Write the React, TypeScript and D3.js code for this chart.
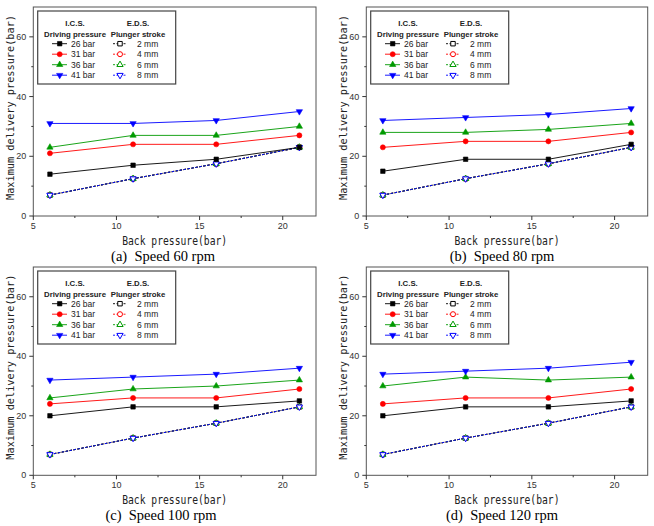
import * as d3 from 'd3'

// back pressure (bar) on the x axis
const backPressure = [6, 11, 16, 21]

const drivingLabels = ['26 bar', '31 bar', '36 bar', '41 bar']
const strokeLabels = ['2 mm', '4 mm', '6 mm', '8 mm']
const seriesColors = ['#000000', '#ff0000', '#009a00', '#0000ff']

// I.C.S. max delivery pressure per driving pressure, one table per pump speed
const ics60 = [
  [14, 17, 19, 23],
  [21, 24, 24, 27],
  [23, 27, 27, 30],
  [31, 31, 32, 35],
]
const ics80 = [
  [15, 19, 19, 24],
  [23, 25, 25, 28],
  [28, 28, 29, 31],
  [32, 33, 34, 36],
]
const ics100 = [
  [20, 23, 23, 25],
  [24, 26, 26, 29],
  [26, 29, 30, 32],
  [32, 33, 34, 36],
]
const ics120 = [
  [20, 23, 23, 25],
  [24, 26, 26, 29],
  [30, 33, 32, 33],
  [34, 35, 36, 38],
]

// E.D.S. per plunger stroke (the curves lie on top of each other)
const eds2mm = [7, 12.5, 17.5, 23]
const eds4mm = [7, 12.5, 17.5, 23]
const eds6mm = [7, 12.5, 17.5, 23]
const eds8mm = [7, 12.5, 17.5, 23]
const edsAll = [eds2mm, eds4mm, eds6mm, eds8mm]

const xTicks = [5, 10, 15, 20]
const xMinor = [7.5, 12.5, 17.5]
const yTicks = [0, 20, 40, 60]
const yMinor = [10, 30, 50]

const panels = [
  { caption: '(a)  Speed 60 rpm', ics: ics60, left: 33.3, top: 7, right: 316, bottom: 216, capX: 163, capY: 261 },
  { caption: '(b)  Speed 80 rpm', ics: ics80, left: 366.3, top: 7, right: 647.7, bottom: 216, capX: 502, capY: 261 },
  { caption: '(c)  Speed 100 rpm', ics: ics100, left: 33.3, top: 267, right: 316, bottom: 475.3, capX: 161, capY: 520 },
  { caption: '(d)  Speed 120 rpm', ics: ics120, left: 366.3, top: 267, right: 647.7, bottom: 475.3, capX: 502, capY: 520 },
]

const symbolTypes = [d3.symbolSquare, d3.symbolCircle, d3.symbolTriangle, d3.symbolTriangle]
const symbolSizes = [20, 20, 17, 17]

function Marker({ i, x, y, open }: { i: number; x: number; y: number; open: boolean }) {
  const d = d3.symbol().type(symbolTypes[i]).size(symbolSizes[i])()!
  const rot = i === 3 ? ' rotate(180)' : ''
  const c = seriesColors[i]
  return (
    <path
      d={d}
      transform={`translate(${x},${y})${rot}`}
      fill={open ? '#fff' : c}
      stroke={c}
      strokeWidth={open ? 1 : 0.6}
    />
  )
}

function Panel({ p }: { p: (typeof panels)[number] }) {
  const x = d3.scaleLinear().domain([5, 22]).range([p.left, p.right])
  const y = d3.scaleLinear().domain([0, 70]).range([p.bottom, p.top])
  const line = d3
    .line<number>()
    .x((_, i) => x(backPressure[i]))
    .y((v) => y(v))

  const lx = p.left + 4.4
  const ly = p.top + 4
  const rowY = (k: number) => ly + 32.7 + k * 10.5

  return (
    <g>
      <rect x={p.left} y={p.top} width={p.right - p.left} height={p.bottom - p.top} fill="none" stroke="#555" strokeWidth={1} />

      {yTicks.map((t) => (
        <g key={'y' + t}>
          <line x1={p.left - 4} x2={p.left} y1={y(t)} y2={y(t)} stroke="#333" />
          <text x={p.left - 7} y={y(t) + 3} textAnchor="end" fontSize={9} fill="#333" fontFamily="Liberation Sans, Arial, sans-serif">
            {t}
          </text>
        </g>
      ))}
      {yMinor.map((t) => (
        <line key={'ym' + t} x1={p.left - 2} x2={p.left} y1={y(t)} y2={y(t)} stroke="#333" />
      ))}
      {xTicks.map((t) => (
        <g key={'x' + t}>
          <line x1={x(t)} x2={x(t)} y1={p.bottom} y2={p.bottom + 4} stroke="#333" />
          <text x={x(t)} y={p.bottom + 13} textAnchor="middle" fontSize={9} fill="#333" fontFamily="Liberation Sans, Arial, sans-serif">
            {t}
          </text>
        </g>
      ))}
      {xMinor.map((t) => (
        <line key={'xm' + t} x1={x(t)} x2={x(t)} y1={p.bottom} y2={p.bottom + 2} stroke="#333" />
      ))}

      <text
        x={(p.left + p.right) / 2}
        y={p.bottom + 28.5}
        textAnchor="middle"
        fontSize={11.5}
        fill="#222"
        fontFamily="DejaVu Sans Mono, monospace"
        textLength={105}
        lengthAdjust="spacingAndGlyphs"
      >
        Back pressure(bar)
      </text>
      <text
        transform={`translate(${p.left - 19},${(p.top + p.bottom) / 2 - 4}) rotate(-90)`}
        textAnchor="middle"
        fontSize={11}
        fill="#222"
        fontFamily="DejaVu Sans Mono, monospace"
        textLength={185}
        lengthAdjust="spacingAndGlyphs"
      >
        Maximum delivery pressure(bar)
      </text>

      {edsAll.map((vals, i) => (
        <path key={'ed' + i} d={line(vals)!} fill="none" stroke={seriesColors[i]} strokeWidth={1} strokeDasharray="2.5,1.5" />
      ))}
      {p.ics.map((vals, i) => (
        <path key={'ic' + i} d={line(vals)!} fill="none" stroke={seriesColors[i]} strokeWidth={0.9} />
      ))}
      {edsAll.map((vals, i) =>
        vals.map((v, j) => <Marker key={`em${i}-${j}`} i={i} x={x(backPressure[j])} y={y(v)} open />),
      )}
      {p.ics.map((vals, i) =>
        vals.map((v, j) => <Marker key={`im${i}-${j}`} i={i} x={x(backPressure[j])} y={y(v)} open={false} />),
      )}

      {/* legend */}
      <rect x={lx} y={ly} width={138} height={73} fill="#fff" stroke="#444" strokeWidth={1.2} />
      <g fontFamily="Liberation Sans, Arial, sans-serif" fill="#222">
        <g fontSize={7.8} fontWeight="bold">
          <text x={lx + 37.3} y={ly + 15} textAnchor="middle">I.C.S.</text>
          <text x={lx + 100.3} y={ly + 15} textAnchor="middle">E.D.S.</text>
          <text x={lx + 37.3} y={ly + 25.5} textAnchor="middle">Driving pressure</text>
          <text x={lx + 100.3} y={ly + 25.5} textAnchor="middle">Plunger stroke</text>
        </g>
        <g fontSize={8.5}>
          {drivingLabels.map((lab, k) => (
            <g key={'ld' + k}>
              <line x1={lx + 14.3} x2={lx + 29.3} y1={rowY(k)} y2={rowY(k)} stroke={seriesColors[k]} strokeWidth={0.9} />
              <Marker i={k} x={lx + 22} y={rowY(k)} open={false} />
              <text x={lx + 33.3} y={rowY(k) + 3}>{lab}</text>
            </g>
          ))}
          {strokeLabels.map((lab, k) => (
            <g key={'ls' + k}>
              <line x1={lx + 75.3} x2={lx + 89.3} y1={rowY(k)} y2={rowY(k)} stroke={seriesColors[k]} strokeWidth={0.9} strokeDasharray="2,1.5" />
              <Marker i={k} x={lx + 82.3} y={rowY(k)} open />
              <text x={lx + 99.3} y={rowY(k) + 3}>{lab}</text>
            </g>
          ))}
        </g>
      </g>

      <text
        x={p.capX}
        y={p.capY}
        textAnchor="middle"
        fontSize={14.5}
        fill="#000"
        fontFamily="Liberation Serif, Times New Roman, serif"
        style={{ whiteSpace: 'pre' }}
      >
        {p.caption}
      </text>
    </g>
  )
}

export default function App() {
  return (
    <svg width={654} height={526} style={{ position: 'absolute', left: 0, top: 0, background: '#fff' }}>
      {panels.map((p) => (
        <Panel key={p.caption} p={p} />
      ))}
    </svg>
  )
}
